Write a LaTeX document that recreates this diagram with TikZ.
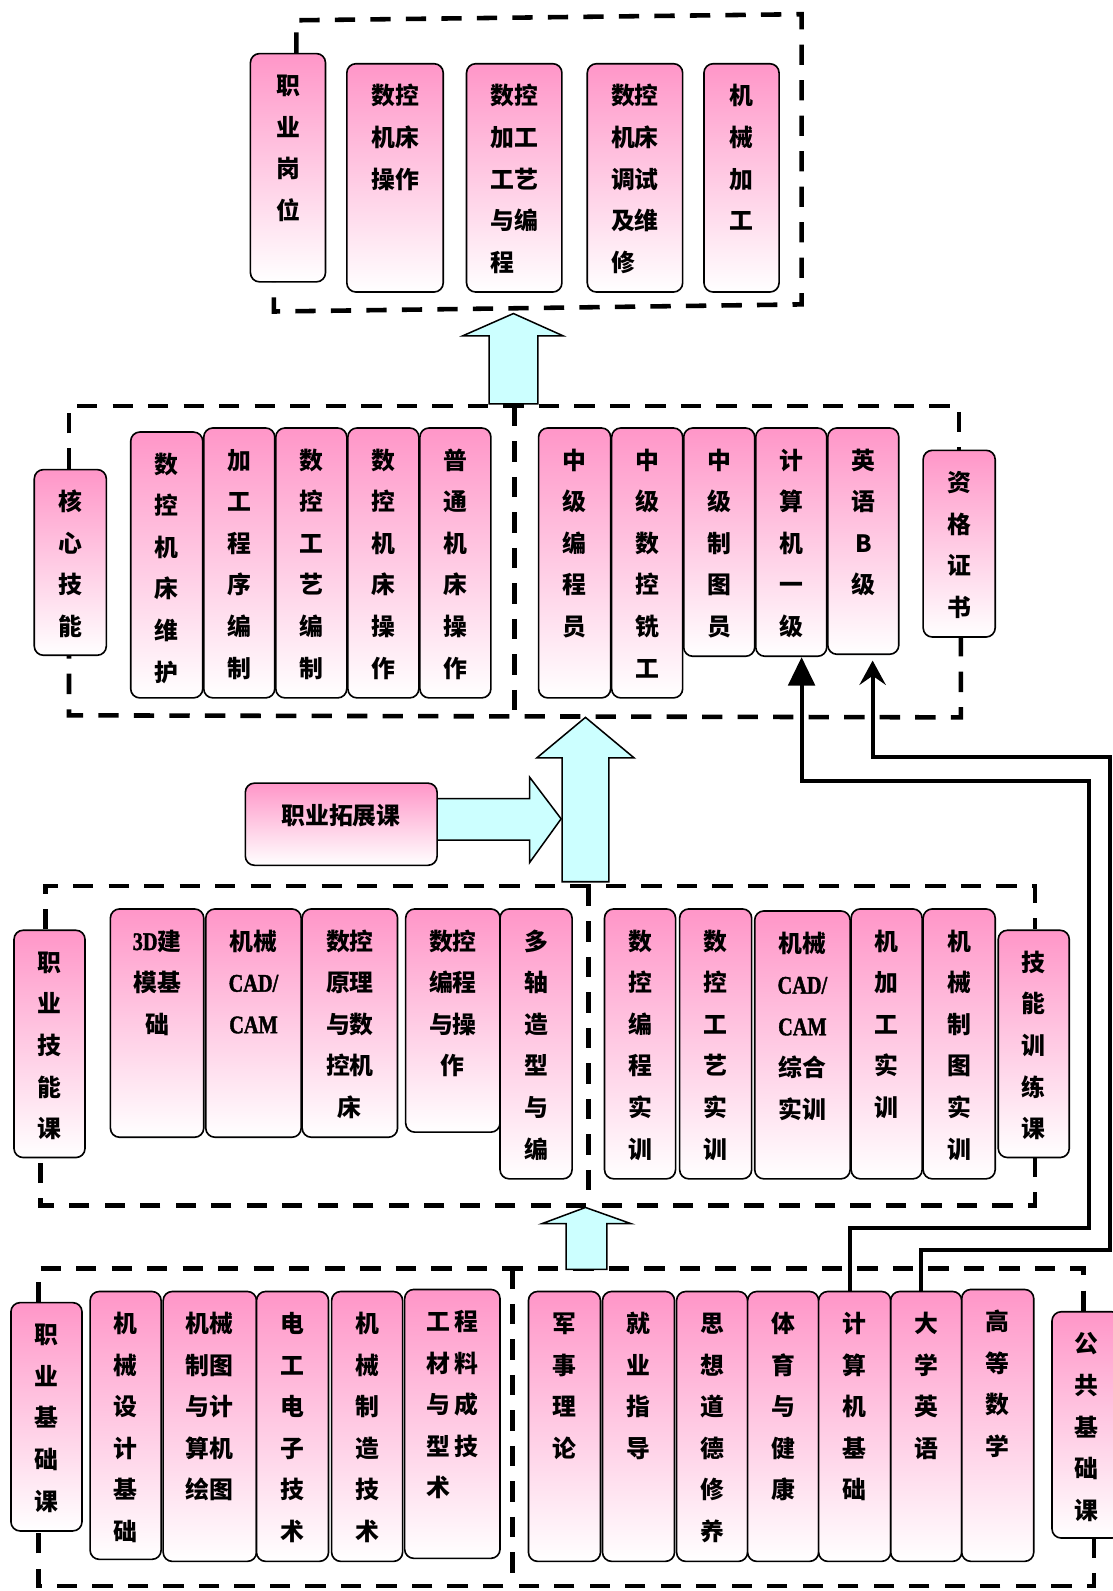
\documentclass[tikz,border=0pt]{standalone}
\usepackage{fontspec}
\setmainfont{Noto Sans CJK SC}
\newfontfamily\lat{Liberation Serif}[FakeStretch=0.8, FakeBold=1.5]
\usetikzlibrary{arrows.meta}
\definecolor{pinktop}{RGB}{255,150,200}
\definecolor{cyanfill}{RGB}{204,255,255}
\newcommand{\cjkfont}{\fontsize{23.5}{41}\selectfont\bfseries}
\newcommand{\latb}[1]{{\lat\bfseries\fontsize{25}{41}\selectfont #1}}
\tikzset{
  cbox/.style={draw=black, line width=1.6pt, rounded corners=9pt, top color=pinktop, bottom color=white, inner sep=0pt},
  ctxt/.style={inner sep=0pt, font=\cjkfont},
  dbox/.style={line width=4.5pt, dash pattern=on 20pt off 15pt, line join=miter},
  blockarrow/.style={draw=black, line width=1.5pt, fill=cyanfill, line join=miter},
  conn/.style={line width=4pt, line join=miter}
}
% #1 align, #2 name, #3 x, #4 y, #5 w, #6 h, #7 text
\newcommand{\cbx}[7]{%
  \node[cbox, minimum width=#5, minimum height=#6, anchor=north west] (#2) at (#3,#4) {};
  \node[ctxt, align=#1, anchor=north] (#2t) at ([yshift=-17.1pt]#2.north) {\rule{0pt}{24pt}#7};
}
\begin{document}
\begin{tikzpicture}[x=1pt,y=-1pt]
\useasboundingbox (0,0) rectangle (1096,1568);
\fill[white] (0,0) rectangle (1096,1568);

% dashed frames
\draw[dbox] (292,52) -- (292,20) -- (790,14) -- (790,300) -- (270,307) -- (270,277);
\draw[dbox] (68,462) -- (68,400) -- (945,400) -- (945,443);
\draw[dbox] (947,627) -- (947,707) -- (68,705) -- (68,645);
\draw[dbox] (507,400) -- (507,705);
\draw[dbox] (45,916) -- (45,873) -- (1020,873) -- (1020,916);
\draw[dbox] (1020,1140) -- (1020,1188) -- (40,1188) -- (40,1140);
\draw[dbox] (580,873) -- (580,1188);
\draw[dbox] (38,1283) -- (38,1250) -- (1068,1250) -- (1068,1292);
\draw[dbox] (1078,1515) -- (1078,1563) -- (38,1563) -- (38,1508);
\draw[dbox] (505,1250) -- (505,1563);

% block arrows
\draw[blockarrow] (482,398) -- (482,331) -- (456,331) -- (506,309) -- (555,331) -- (530,331) -- (530,398) -- cycle;
\draw[blockarrow] (420,787) -- (522,787) -- (522,766) -- (553,807) -- (522,850) -- (522,828) -- (420,828) -- cycle;
\draw[blockarrow] (554,869) -- (554,747) -- (529,747) -- (577,707) -- (625,747) -- (600,747) -- (600,869) -- cycle;
\draw[blockarrow] (558,1251) -- (558,1206) -- (534,1206) -- (577,1190) -- (622,1206) -- (598,1206) -- (598,1251) -- cycle;

% top row
\cbx{center}{jygw}{246}{52}{74}{225}{职\\业\\岗\\位}
\cbx{left}{t1}{341}{62}{95}{225}{数控\\机床\\操作}
\cbx{left}{t2}{459}{62}{94}{225}{数控\\加工\\工艺\\与编\\程}
\cbx{left}{t3}{578}{62}{94}{225}{数控\\机床\\调试\\及维\\修}
\cbx{center}{t4}{693}{62}{74}{225}{机\\械\\加\\工}

% middle row
\cbx{center}{hxjn}{33}{462}{71}{183}{核\\心\\技\\能}
\cbx{center}{m1}{128}{425}{71}{262}{数\\控\\机\\床\\维\\护}
\cbx{center}{m2}{200}{421}{70}{266}{加\\工\\程\\序\\编\\制}
\cbx{center}{m3}{271}{421}{70}{266}{数\\控\\工\\艺\\编\\制}
\cbx{center}{m4}{342}{421}{70}{266}{数\\控\\机\\床\\操\\作}
\cbx{center}{m5}{413}{421}{70}{266}{普\\通\\机\\床\\操\\作}
\cbx{center}{c1}{530}{421}{71}{266}{中\\级\\编\\程\\员}
\cbx{center}{c2}{602}{421}{70}{266}{中\\级\\数\\控\\铣\\工}
\cbx{center}{c3}{673}{421}{70}{225}{中\\级\\制\\图\\员}
\cbx{center}{c4}{744}{421}{70}{225}{计\\算\\机\\一\\级}
\cbx{center}{c5}{815}{421}{70}{223}{英\\语\\B\\级}
\cbx{center}{zgzs}{909}{443}{71}{184}{资\\格\\证\\书}

% extension course
\node[cbox, minimum width=189, minimum height=81, anchor=north west] (zytzk) at (241,771) {};
\node[ctxt] (zytzkt) at (336,804) {职业拓展课};

% skills row
\cbx{center}{zyjnk}{13}{916}{70}{224}{职\\业\\技\\能\\课}
\cbx{center}{s1}{108}{895}{92}{225}{\latb{3D}建\\模基\\础}
\cbx{center}{s2}{202}{895}{94}{225}{机械\\\latb{CAD/}\\\latb{CAM}}
\cbx{center}{s3}{297}{895}{94}{225}{数控\\原理\\与数\\控机\\床}
\cbx{center}{s4}{399}{895}{93}{220}{数控\\编程\\与操\\作}
\cbx{center}{s5}{492}{895}{71}{266}{多\\轴\\造\\型\\与\\编}
\cbx{center}{s6}{595}{895}{70}{266}{数\\控\\编\\程\\实\\训}
\cbx{center}{s7}{669}{895}{71}{266}{数\\控\\工\\艺\\实\\训}
\cbx{center}{s8}{743}{897}{94}{264}{机械\\\latb{CAD/}\\\latb{CAM}\\综合\\实训}
\cbx{center}{s9}{838}{895}{70}{266}{机\\加\\工\\实\\训}
\cbx{center}{s10}{909}{895}{71}{266}{机\\械\\制\\图\\实\\训}
\cbx{center}{jnxlk}{983}{916}{70}{224}{技\\能\\训\\练\\课}

% base row
\cbx{center}{zyjck}{10}{1283}{70}{225}{职\\业\\基\\础\\课}
\cbx{center}{b1}{88}{1272}{70}{264}{机\\械\\设\\计\\基\\础}
\cbx{center}{b2}{160}{1272}{92}{266}{机械\\制图\\与计\\算机\\绘图}
\cbx{center}{b3}{252}{1272}{71}{266}{电\\工\\电\\子\\技\\术}
\cbx{center}{b4}{326}{1272}{70}{266}{机\\械\\制\\造\\技\\术}
\cbx{left}{b5}{398}{1270}{94}{265}{工\,程\\材\,料\\与\,成\\型\,技\\术}
\cbx{center}{p1}{520}{1272}{71}{266}{军\\事\\理\\论}
\cbx{center}{p2}{593}{1272}{71}{266}{就\\业\\指\\导}
\cbx{center}{p3}{666}{1272}{70}{266}{思\\想\\道\\德\\修\\养}
\cbx{center}{p4}{736}{1272}{70}{266}{体\\育\\与\\健\\康}
\cbx{center}{p5}{806}{1272}{71}{266}{计\\算\\机\\基\\础}
\cbx{center}{p6}{877}{1272}{70}{266}{大\\学\\英\\语}
\cbx{center}{p7}{947}{1270}{71}{268}{高\\等\\数\\学}
\cbx{center}{ggjck}{1036}{1292}{68}{223}{公\\共\\基\\础\\课}

% connectors
\coordinate (a1) at (838,1210);
\coordinate (a2) at (1073,770);
\coordinate (ax) at (790,0);
\draw[conn, -{Triangle[length=28pt,width=26pt]}] (p5.north -| a1) -- (a1) -| (a2) -| (c4.south -| ax);
\coordinate (b1c) at (908,1232);
\coordinate (b2c) at (1094,746);
\coordinate (b3c) at (860,651);
\draw[conn, -{Stealth[length=24pt,width=26pt,inset=9pt]}] (p6.north -| b1c) -- (b1c) -| (b2c) -| (b3c);
\end{tikzpicture}
\end{document}
